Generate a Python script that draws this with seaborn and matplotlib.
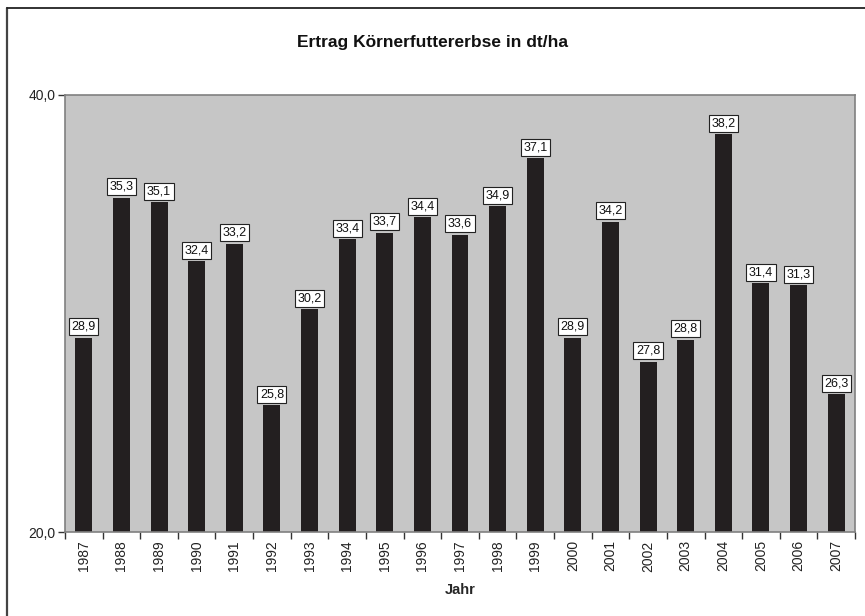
import seaborn as sns
import pandas as pd
import matplotlib.pyplot as plt
import numpy as np
from matplotlib.lines import Line2D
from matplotlib.ticker import FixedLocator

years = [str(y) for y in range(1987, 2008)]
ertrag = [28.9, 35.3, 35.1, 32.4, 33.2, 25.8, 30.2, 33.4, 33.7, 34.4, 33.6,
          34.9, 37.1, 28.9, 34.2, 27.8, 28.8, 38.2, 31.4, 31.3, 26.3]

df = pd.DataFrame({'Jahr': years, 'Ertrag': ertrag})

sns.set_style('white')
plt.rcParams['font.family'] = ['Liberation Sans', 'DejaVu Sans']

fig = plt.figure(figsize=(8.65, 6.16), dpi=100)
ax = fig.add_axes([65 / 865, (616 - 532) / 616, 790 / 865, (532 - 95) / 616])
ax.set_facecolor('#c6c6c6')

sns.barplot(data=df, x='Jahr', y='Ertrag', color='#231f20', width=0.45,
            saturation=1, ax=ax)
for p in ax.patches:
    p.set_edgecolor('none')

ax.set_ylim(20, 40)
ax.set_xlim(-0.5, len(years) - 0.5)
ax.set_yticks([20, 40])
ax.set_yticklabels(['20,0', '40,0'], fontsize=10, color='#222222')
ax.tick_params(axis='y', direction='out', length=5, width=1, color='#333333', pad=2, left=True)

ax.set_xticks(range(len(years)))
ax.set_xticklabels(years, rotation=90, fontsize=10, color='#222222')
ax.tick_params(axis='x', which='major', length=0, pad=6)
ax.xaxis.set_minor_locator(FixedLocator(np.arange(-0.5, len(years), 1.0)))
ax.tick_params(axis='x', which='minor', direction='out', length=5, width=1,
               color='#333333', bottom=True)

for s in ax.spines.values():
    s.set_color('#808080')
    s.set_linewidth(1.2)

for i, v in enumerate(ertrag):
    ax.annotate(('%.1f' % v).replace('.', ','), xy=(i, v), xytext=(0, 3.5),
                textcoords='offset points', ha='center', va='bottom', fontsize=9,
                color='#111111',
                bbox=dict(boxstyle='square,pad=0.2', fc='white', ec='#222222', lw=0.8))

ax.set_xlabel('Jahr', fontsize=10.5, fontweight='bold', labelpad=8)
ax.set_ylabel('')

fig.text(0.5, 1 - 43 / 616, 'Ertrag Körnerfuttererbse in dt/ha', ha='center', va='center',
         fontsize=12.5, fontweight='bold', color='#111111')

# outer frame (only left and top visible)
fig.add_artist(Line2D([7 / 865, 7 / 865], [0, 1 - 8 / 616], color='#444444', lw=1.6))
fig.add_artist(Line2D([7 / 865, 1], [1 - 8 / 616, 1 - 8 / 616], color='#222222', lw=1.3))

fig.savefig('out.png', dpi=100)
